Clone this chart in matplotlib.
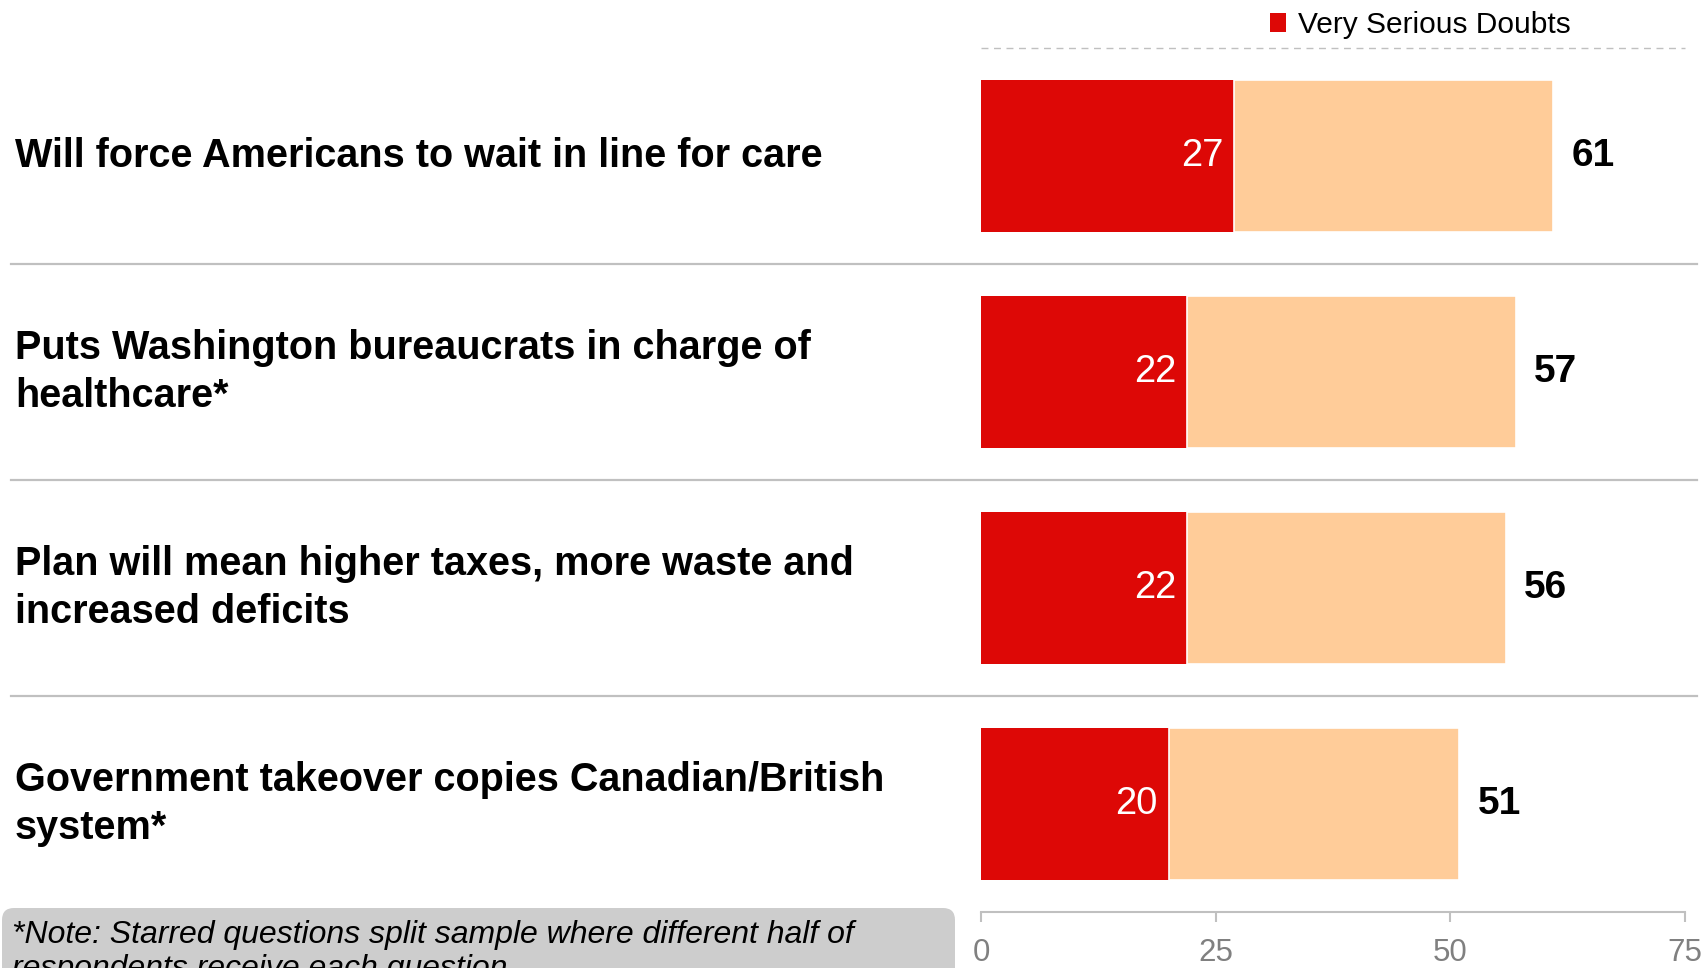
import matplotlib
matplotlib.use("Agg")
import matplotlib.pyplot as plt
from matplotlib.patches import FancyBboxPatch
from matplotlib.transforms import Affine2D, blended_transform_factory

plt.rcParams['font.family'] = ['Liberation Sans', 'DejaVu Sans']

# data
questions = [
    "Will force Americans to wait in line for care",
    "Puts Washington bureaucrats in charge of\nhealthcare*",
    "Plan will mean higher taxes, more waste and\nincreased deficits",
    "Government takeover copies Canadian/British\nsystem*",
]
very_serious = [27, 22, 22, 20]
total_doubts = [61, 57, 56, 51]
xticks = [0, 25, 50, 75]
legend_label = "Very Serious Doubts"
note_lines = ["*Note: Starred questions split sample where different half of",
              "respondents receive each question"]

RED = '#DD0806'
PEACH = '#FFCC99'
GRID = '#C0C0C0'

W, H = 1703, 968
fig = plt.figure(figsize=(W / 100, H / 100), dpi=100)
# pixel transform, y measured from the top
px = Affine2D().scale(1 / W, -1 / H).translate(0, 1) + fig.transFigure

ax = fig.add_axes([981 / W, 56 / H, 703.5 / W, 864 / H])
y = list(range(len(questions)))
rest = [t - v for t, v in zip(total_doubts, very_serious)]

red_bars = ax.barh(y, very_serious, height=0.7, color=RED, label=legend_label)
ax.barh(y, rest, left=very_serious, height=0.7, color=PEACH,
        edgecolor='white', linewidth=1.2)

for yi, v, t in zip(y, very_serious, total_doubts):
    ax.annotate(str(v), (v, yi), xytext=(-8, 0), textcoords='offset points',
                ha='right', va='center', color='white', fontsize=27.5)
    ax.annotate(str(t), (t, yi), xytext=(13, 0), textcoords='offset points',
                ha='left', va='center', color='black', fontsize=28,
                fontweight='bold')

ax.set_xlim(0, 75)
ax.set_ylim(3.5, -0.5)
ax.set_xticks(xticks)
ax.set_yticks([])
for s in ['left', 'right', 'top']:
    ax.spines[s].set_visible(False)
ax.spines['bottom'].set_color(GRID)
ax.spines['bottom'].set_linewidth(1.5)
ax.tick_params(axis='x', direction='out', length=7, width=1.5, color=GRID,
               labelcolor='#808080', labelsize=22.5, pad=12)

# dashed line at the top of the plot area
ax.plot([0, 1], [1, 1], transform=ax.transAxes, color=GRID, lw=1,
        dashes=(5, 4), clip_on=False)

# question labels and separators
lab_tr = blended_transform_factory(fig.transFigure, ax.transData)
for yi, q in zip(y, questions):
    ax.text(15 / W, yi, q, transform=lab_tr, ha='left', va='center',
            fontsize=28.5, fontweight='bold', color='black', linespacing=1.33)
for yi in y[:-1]:
    ax.plot([11 / W, 1697 / W], [yi + 0.5, yi + 0.5], transform=lab_tr,
            color=GRID, lw=1.6, clip_on=False)

fig.legend(handles=[red_bars], labels=[legend_label], loc='center left',
           bbox_to_anchor=(1270 / W, 1 - 25 / H), frameon=False,
           fontsize=21.5, handlelength=0.55, handleheight=0.6,
           handletextpad=0.4, borderpad=0, borderaxespad=0)

# note box at the bottom left
box = FancyBboxPatch((2, 908), 953, 120, boxstyle='round,pad=0,rounding_size=12',
                     transform=px, facecolor='#CDCDCD', edgecolor='none')
fig.patches.append(box)
fig.text(12, 943, note_lines[0], transform=px, fontsize=23, style='italic',
         va='baseline', ha='left')
fig.text(12, 977, note_lines[1], transform=px, fontsize=23, style='italic',
         va='baseline', ha='left')

fig.savefig('out.png', dpi=100)
